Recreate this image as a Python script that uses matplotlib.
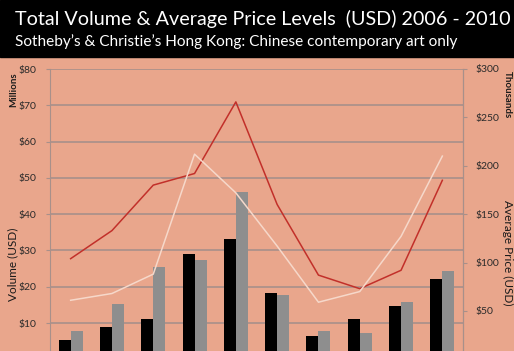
import matplotlib
matplotlib.use("Agg")
import matplotlib.pyplot as plt
import numpy as np

# auction seasons, spring / autumn 2006 - 2010
seasons = ["Spr 06", "Aut 06", "Spr 07", "Aut 07", "Spr 08",
           "Aut 08", "Spr 09", "Aut 09", "Spr 10", "Aut 10"]
# total volume, millions USD
vol_sothebys = [5.3, 8.9, 11.0, 28.9, 33.1, 18.3, 6.4, 11.2, 14.6, 22.2]
vol_christies = [7.9, 15.2, 25.5, 27.4, 46.0, 17.6, 7.9, 7.3, 15.8, 24.3]
# average price, thousands USD
avg_sothebys = [104, 133, 180, 192, 266, 160, 87, 73, 92, 185]
avg_christies = [61, 68, 88, 212, 172, 117, 59, 70, 127, 210]

left_ticks = [10, 20, 30, 40, 50, 60, 70, 80]
right_ticks = [50, 100, 150, 200, 250, 300]

bg = "#E9A68C"
grid_c = "#A8908A"
font = "Lato"

fig = plt.figure(figsize=(5.14, 3.51), dpi=100, facecolor=bg)
# black title band
fig.patches.append(plt.Rectangle((0, 1 - 57 / 351), 1, 57 / 351,
                                 transform=fig.transFigure, color="black", zorder=0))
fig.text(15 / 514, 1 - 19 / 351, "Total Volume & Average Price Levels  (USD) 2006 - 2010",
         color="white", fontsize=14.2, family=font, va="center", ha="left")
fig.text(15 / 514, 1 - 42 / 351, "Sotheby\u2019s & Christie\u2019s Hong Kong: Chinese contemporary art only",
         color="white", fontsize=11.1, family=font, va="center", ha="left")

ax = fig.add_axes([50 / 514, -8.3 / 351, 413 / 514, 290.3 / 351])
ax.set_facecolor(bg)
x = np.arange(len(seasons))
w = 0.29
ax.bar(x - w / 2, vol_sothebys, w, color="black", zorder=3)
ax.bar(x + w / 2, vol_christies, w, color="#8E8E8E", zorder=3)
ax.set_xlim(-0.5, len(seasons) - 0.5)
ax.set_ylim(0, 80)
ax.set_yticks(left_ticks)
ax.set_yticklabels(["$%d" % t for t in left_ticks], family=font, fontsize=7.5)
ax.set_xticks([])
ax.grid(axis="y", color=grid_c, linewidth=1.2, zorder=0)
for s in ["top", "bottom"]:
    ax.spines[s].set_visible(False)
for s in ["left", "right"]:
    ax.spines[s].set_color(grid_c)
ax.tick_params(axis="y", colors=grid_c, labelcolor="#2a2a2a", length=3, pad=7)

ax2 = ax.twinx()
ax2.plot(x, avg_sothebys, color="#C2302A", linewidth=1.1, zorder=4)
ax2.plot(x, avg_christies, color="#F6D8CA", linewidth=1.1, zorder=4)
ax2.set_ylim(0, 300)
ax2.set_yticks(right_ticks)
ax2.set_yticklabels(["$%d" % t for t in right_ticks], family=font, fontsize=7.5)
for s in ["top", "bottom", "left"]:
    ax2.spines[s].set_visible(False)
ax2.spines["right"].set_color(grid_c)
ax2.tick_params(axis="y", colors=grid_c, labelcolor="#2a2a2a", length=3, pad=6)

fig.text(14 / 514, 1 - 90 / 351, "Millions", rotation=90, fontsize=7, fontweight="bold",
         family=font, ha="center", va="center", color="#1a1a1a")
fig.text(13 / 514, 1 - 264 / 351, "Volume (USD)", rotation=90, fontsize=8.5,
         family=font, ha="center", va="center", color="#1a1a1a")
fig.text(507 / 514, 1 - 95 / 351, "Thousands", rotation=270, fontsize=7, fontweight="bold",
         family=font, ha="center", va="center", color="#1a1a1a")
fig.text(508 / 514, 1 - 253 / 351, "Average Price (USD)", rotation=270, fontsize=8.5,
         family=font, ha="center", va="center", color="#1a1a1a")

fig.savefig("out.png", dpi=100, facecolor=bg)
